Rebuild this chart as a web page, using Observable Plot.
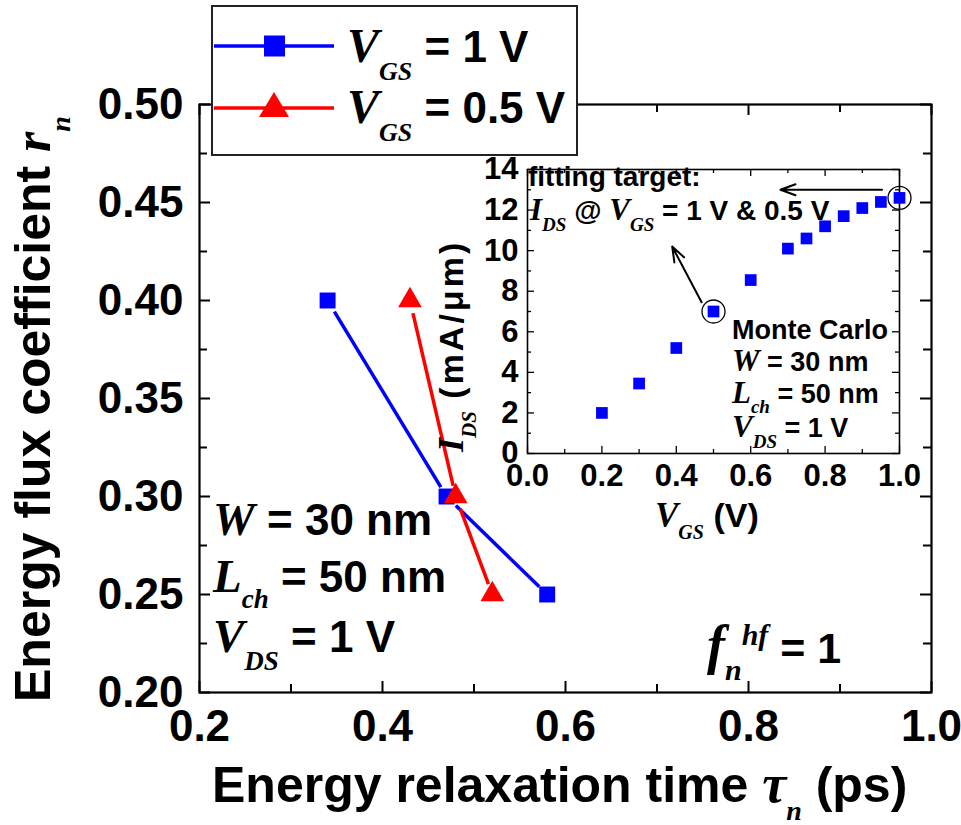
<!DOCTYPE html>
<html>
<head>
<meta charset="utf-8">
<script src="https://cdn.jsdelivr.net/npm/d3@7"></script>
<script src="https://cdn.jsdelivr.net/npm/@observablehq/plot@0.6"></script>
<style>
  html, body { margin: 0; padding: 0; background: white; }
  #wrap { position: relative; width: 961px; height: 825px; background: white; overflow: hidden; }
  #main { position: absolute; left: 0; top: 0; }
  #inset { position: absolute; left: 420px; top: 140px; }
</style>
</head>
<body>
<div id="wrap"><div id="main"></div><div id="inset"></div></div>
<script>
// ---------- data: main chart ----------
const tauVgs1 = [0.34, 0.47, 0.58];     // V_GS = 1 V (blue squares)
const rVgs1 = [0.40, 0.30, 0.25];
const tauVgs05 = [0.43, 0.48, 0.52];    // V_GS = 0.5 V (red triangles)
const rVgs05 = [0.40, 0.30, 0.25];
const xTicksMain = [0.2, 0.4, 0.6, 0.8, 1.0];
const xMinorMain = [0.3, 0.5, 0.7, 0.9];
const yTicksMain = [0.20, 0.25, 0.30, 0.35, 0.40, 0.45, 0.50];
const yMinorMain = [0.225, 0.275, 0.325, 0.375, 0.425, 0.475];
const legendLabels = ["= 1 V", "= 0.5 V"];

// ---------- data: inset (Monte Carlo I_DS vs V_GS) ----------
const vgs = [0.2, 0.3, 0.4, 0.5, 0.6, 0.7, 0.75, 0.8, 0.85, 0.9, 0.95, 1.0];
const ids = [2.0, 3.45, 5.2, 7.0, 8.55, 10.1, 10.6, 11.2, 11.7, 12.1, 12.4, 12.6];
const targetVgs = [0.5, 1.0];
const arrowX1 = [0.953, 0.468];
const arrowY1 = [13.0, 7.46];
const arrowX2 = [0.68, 0.389];
const arrowY2 = [13.0, 10.2];
const xTicksIn = [0, 0.2, 0.4, 0.6, 0.8, 1.0];
const xMinorIn = [0.1, 0.3, 0.5, 0.7, 0.9];
const yTicksIn = [0, 2, 4, 6, 8, 10, 12, 14];
const yMinorIn = [1, 3, 5, 7, 9, 11, 13];

const SANS = "'Liberation Sans', Arial, Helvetica, sans-serif";
const SERIF = "'Liberation Serif', 'Times New Roman', Times, serif";
const BLUE = "#0000ff", RED = "#ff0000";

const pts = (xs, ys) => xs.map((x, i) => ({x, y: ys[i]}));
const segs = (xs, ys) => xs.slice(1).map((x, i) => ({x1: xs[i], y1: ys[i], x2: x, y2: ys[i + 1]}));

function rich(parent, x, y, parts, anchor) {
  const t = parent.append("text").attr("x", x).attr("y", y)
    .attr("text-anchor", anchor || "start")
    .style("white-space", "pre").attr("fill", "black");
  let cur = 0;
  for (const p of parts) {
    const ts = t.append("tspan").text(p.t)
      .attr("font-family", p.serif ? SERIF : SANS)
      .attr("font-style", p.serif ? "italic" : "normal")
      .attr("font-weight", "bold")
      .attr("font-size", p.size);
    const target = p.dy || 0;
    if (target !== cur) ts.attr("dy", target - cur);
    cur = target;
    if (p.dx) ts.attr("dx", p.dx);
    if (p.ls) ts.attr("letter-spacing", p.ls);
  }
  return t;
}

// ---------- main plot ----------
const W = 961, H = 825, mL = 199, mR = 30, mT = 104, mB = 133;
const iw = W - mL - mR, ih = H - mT - mB;
const tk = 11, tkm = 8;

const main = Plot.plot({
  width: W, height: H,
  marginLeft: mL, marginRight: mR, marginTop: mT, marginBottom: mB,
  x: {domain: [0.2, 1.0]},
  y: {domain: [0.2, 0.5]},
  style: {fontFamily: SANS, fontSize: "44px", fontWeight: "bold", background: "transparent", color: "black"},
  marks: [
    Plot.tickX(xTicksMain, {x: d => d, insetTop: ih - tk, strokeWidth: 2}),
    Plot.tickX(xMinorMain, {x: d => d, insetTop: ih - tkm, strokeWidth: 2}),
    Plot.tickX(xTicksMain, {x: d => d, insetBottom: ih - tk, strokeWidth: 2}),
    Plot.tickX(xMinorMain, {x: d => d, insetBottom: ih - tkm, strokeWidth: 2}),
    Plot.tickY(yTicksMain, {y: d => d, insetRight: iw - tk, strokeWidth: 2}),
    Plot.tickY(yMinorMain, {y: d => d, insetRight: iw - tkm, strokeWidth: 2}),
    Plot.tickY(yTicksMain, {y: d => d, insetLeft: iw - tk, strokeWidth: 2}),
    Plot.tickY(yMinorMain, {y: d => d, insetLeft: iw - tkm, strokeWidth: 2}),
    Plot.frame({stroke: "black", strokeWidth: 2.2}),
    Plot.axisX(xTicksMain, {tickSize: 0, tickPadding: 17, tickFormat: d3.format(".1f"), label: null}),
    Plot.axisY(yTicksMain, {tickSize: 0, tickPadding: 16, tickFormat: d3.format(".2f"), label: null}),
    Plot.arrow(segs(tauVgs1, rVgs1), {x1: "x1", y1: "y1", x2: "x2", y2: "y2", stroke: BLUE, strokeWidth: 3.5, headLength: 0, insetStart: 13, insetEnd: 11, strokeLinecap: "butt"}),
    Plot.arrow(segs(tauVgs05, rVgs05), {x1: "x1", y1: "y1", x2: "x2", y2: "y2", stroke: RED, strokeWidth: 3.5, headLength: 0, insetStart: 13, insetEnd: 11, strokeLinecap: "butt"}),
    Plot.dot(pts(tauVgs1, rVgs1), {x: "x", y: "y", symbol: "square", r: 9, fill: BLUE}),
    Plot.dot(pts(tauVgs05, rVgs05), {x: "x", y: "y", symbol: "triangle", r: 8.8, fill: RED})
  ]
});
document.getElementById("main").appendChild(main);
const ms = d3.select(main);

// axis titles
const yt = ms.append("g").attr("transform", "translate(50,702) rotate(-90)");
rich(yt, 0, 0, [
  {t: "Energy flux coefficient ", size: 50},
  {t: "r", serif: true, size: 52},
  {t: "n", serif: true, size: 28, dy: 20}
]);
rich(ms, 212, 802, [
  {t: "Energy relaxation time ", size: 50},
  {t: "τ", serif: true, size: 54},
  {t: "n", serif: true, size: 28, dy: 18},
  {t: " (ps)", size: 50, dy: 0}
]);

// annotations
rich(ms, 213, 535, [{t: "W", serif: true, size: 47}, {t: " = 30 nm", size: 44}]);
rich(ms, 213, 592, [{t: "L", serif: true, size: 47}, {t: "ch", serif: true, size: 27, dy: 16}, {t: " = 50 nm", size: 44, dy: 0}]);
rich(ms, 213, 652, [{t: "V", serif: true, size: 47}, {t: "DS", serif: true, size: 27, dy: 18}, {t: " = 1 V", size: 44, dy: 0}]);
rich(ms, 707, 663, [
  {t: "f", serif: true, size: 54},
  {t: "n", serif: true, size: 30, dy: 17},
  {t: "hf", serif: true, size: 30, dy: -18},
  {t: " = 1", size: 43, dy: 0}
]);

// legend
const lg = ms.append("g");
lg.append("rect").attr("x", 212).attr("y", 6).attr("width", 365).attr("height", 149)
  .attr("fill", "white").attr("stroke", "#222").attr("stroke-width", 2);
lg.append("line").attr("x1", 214).attr("x2", 334).attr("y1", 46).attr("y2", 46)
  .attr("stroke", BLUE).attr("stroke-width", 3.5);
lg.append("rect").attr("x", 264).attr("y", 35.5).attr("width", 21).attr("height", 21).attr("fill", BLUE);
lg.append("line").attr("x1", 214).attr("x2", 334).attr("y1", 108).attr("y2", 108)
  .attr("stroke", RED).attr("stroke-width", 3.5);
lg.append("path").attr("d", "M259,117L289,117L274,92Z").attr("fill", RED);
rich(lg, 347, 62, [{t: "V", serif: true, size: 48}, {t: "GS", serif: true, size: 26, dy: 18}, {t: " " + legendLabels[0], size: 44, dy: 0}]);
rich(lg, 347, 123, [{t: "V", serif: true, size: 48}, {t: "GS", serif: true, size: 26, dy: 18}, {t: " " + legendLabels[1], size: 44, dy: 0}]);

// ---------- inset plot ----------
const IW = 520, IH = 420, imL = 107, imR = 41, imT = 29, imB = 107;
const iiw = IW - imL - imR, iih = IH - imT - imB;
const itk = 7, itkm = 4;
const inset = Plot.plot({
  width: IW, height: IH,
  marginLeft: imL, marginRight: imR, marginTop: imT, marginBottom: imB,
  x: {domain: [0, 1.0]},
  y: {domain: [0, 14]},
  style: {fontFamily: SANS, fontSize: "31px", fontWeight: "bold", background: "transparent", color: "black"},
  marks: [
    Plot.tickX(xTicksIn, {x: d => d, insetTop: iih - itk, strokeWidth: 1.3}),
    Plot.tickX(xMinorIn, {x: d => d, insetTop: iih - itkm, strokeWidth: 1.3}),
    Plot.tickX(xTicksIn, {x: d => d, insetBottom: iih - itk, strokeWidth: 1.3}),
    Plot.tickX(xMinorIn, {x: d => d, insetBottom: iih - itkm, strokeWidth: 1.3}),
    Plot.tickY(yTicksIn, {y: d => d, insetRight: iiw - itk, strokeWidth: 1.3}),
    Plot.tickY(yMinorIn, {y: d => d, insetRight: iiw - itkm, strokeWidth: 1.3}),
    Plot.tickY(yTicksIn, {y: d => d, insetLeft: iiw - itk, strokeWidth: 1.3}),
    Plot.tickY(yMinorIn, {y: d => d, insetLeft: iiw - itkm, strokeWidth: 1.3}),
    Plot.frame({stroke: "black", strokeWidth: 1.6}),
    Plot.axisX(xTicksIn, {tickSize: 0, tickPadding: 10, tickFormat: d3.format(".1f"), label: null}),
    Plot.axisY(yTicksIn, {tickSize: 0, tickPadding: 9, tickFormat: d3.format("d"), label: null}),
    Plot.dot(pts(vgs, ids), {x: "x", y: "y", symbol: "square", r: 6.6, fill: BLUE}),
    Plot.dot(pts(vgs, ids).filter(d => targetVgs.includes(d.x)), {x: "x", y: "y", r: 11.5, stroke: "black", strokeWidth: 1.3, fill: "none"}),
    Plot.arrow(arrowX1.map((x, i) => ({x1: x, y1: arrowY1[i], x2: arrowX2[i], y2: arrowY2[i]})),
      {x1: "x1", y1: "y1", x2: "x2", y2: "y2", stroke: "black", strokeWidth: 2, headLength: 12, headAngle: 40})
  ]
});
document.getElementById("inset").appendChild(inset);
const is = d3.select(inset);

// inset axis titles
const iyt = is.append("g").attr("transform", "translate(43,312) rotate(-90)");
rich(iyt, 0, 0, [
  {t: "I", serif: true, size: 36},
  {t: "DS", serif: true, size: 21, dy: 13},
  {t: " (mA/μm)", size: 34, dy: 0, ls: 3}
]);
rich(is, 235, 387, [
  {t: "V", serif: true, size: 35},
  {t: "GS", serif: true, size: 20, dy: 12},
  {t: " (V)", size: 34, dy: 0}
]);

// inset annotations
rich(is, 108, 46, [{t: "fitting target:", size: 28}]);
rich(is, 110, 80, [
  {t: "I", serif: true, size: 31},
  {t: "DS", serif: true, size: 19, dy: 11},
  {t: " @ ", size: 28, dy: 0},
  {t: "V", serif: true, size: 31},
  {t: "GS", serif: true, size: 19, dy: 11},
  {t: " = 1 V & 0.5 V", size: 28, dy: 0}
]);
rich(is, 312, 199, [{t: "Monte Carlo", size: 27}]);
rich(is, 312, 231, [{t: "W", serif: true, size: 31}, {t: " = 30 nm", size: 27}]);
rich(is, 312, 263, [{t: "L", serif: true, size: 31}, {t: "ch", serif: true, size: 19, dy: 10}, {t: " = 50 nm", size: 27, dy: 0}]);
rich(is, 312, 297, [{t: "V", serif: true, size: 31}, {t: "DS", serif: true, size: 19, dy: 11}, {t: " = 1 V", size: 27, dy: 0}]);
</script>
</body>
</html>
